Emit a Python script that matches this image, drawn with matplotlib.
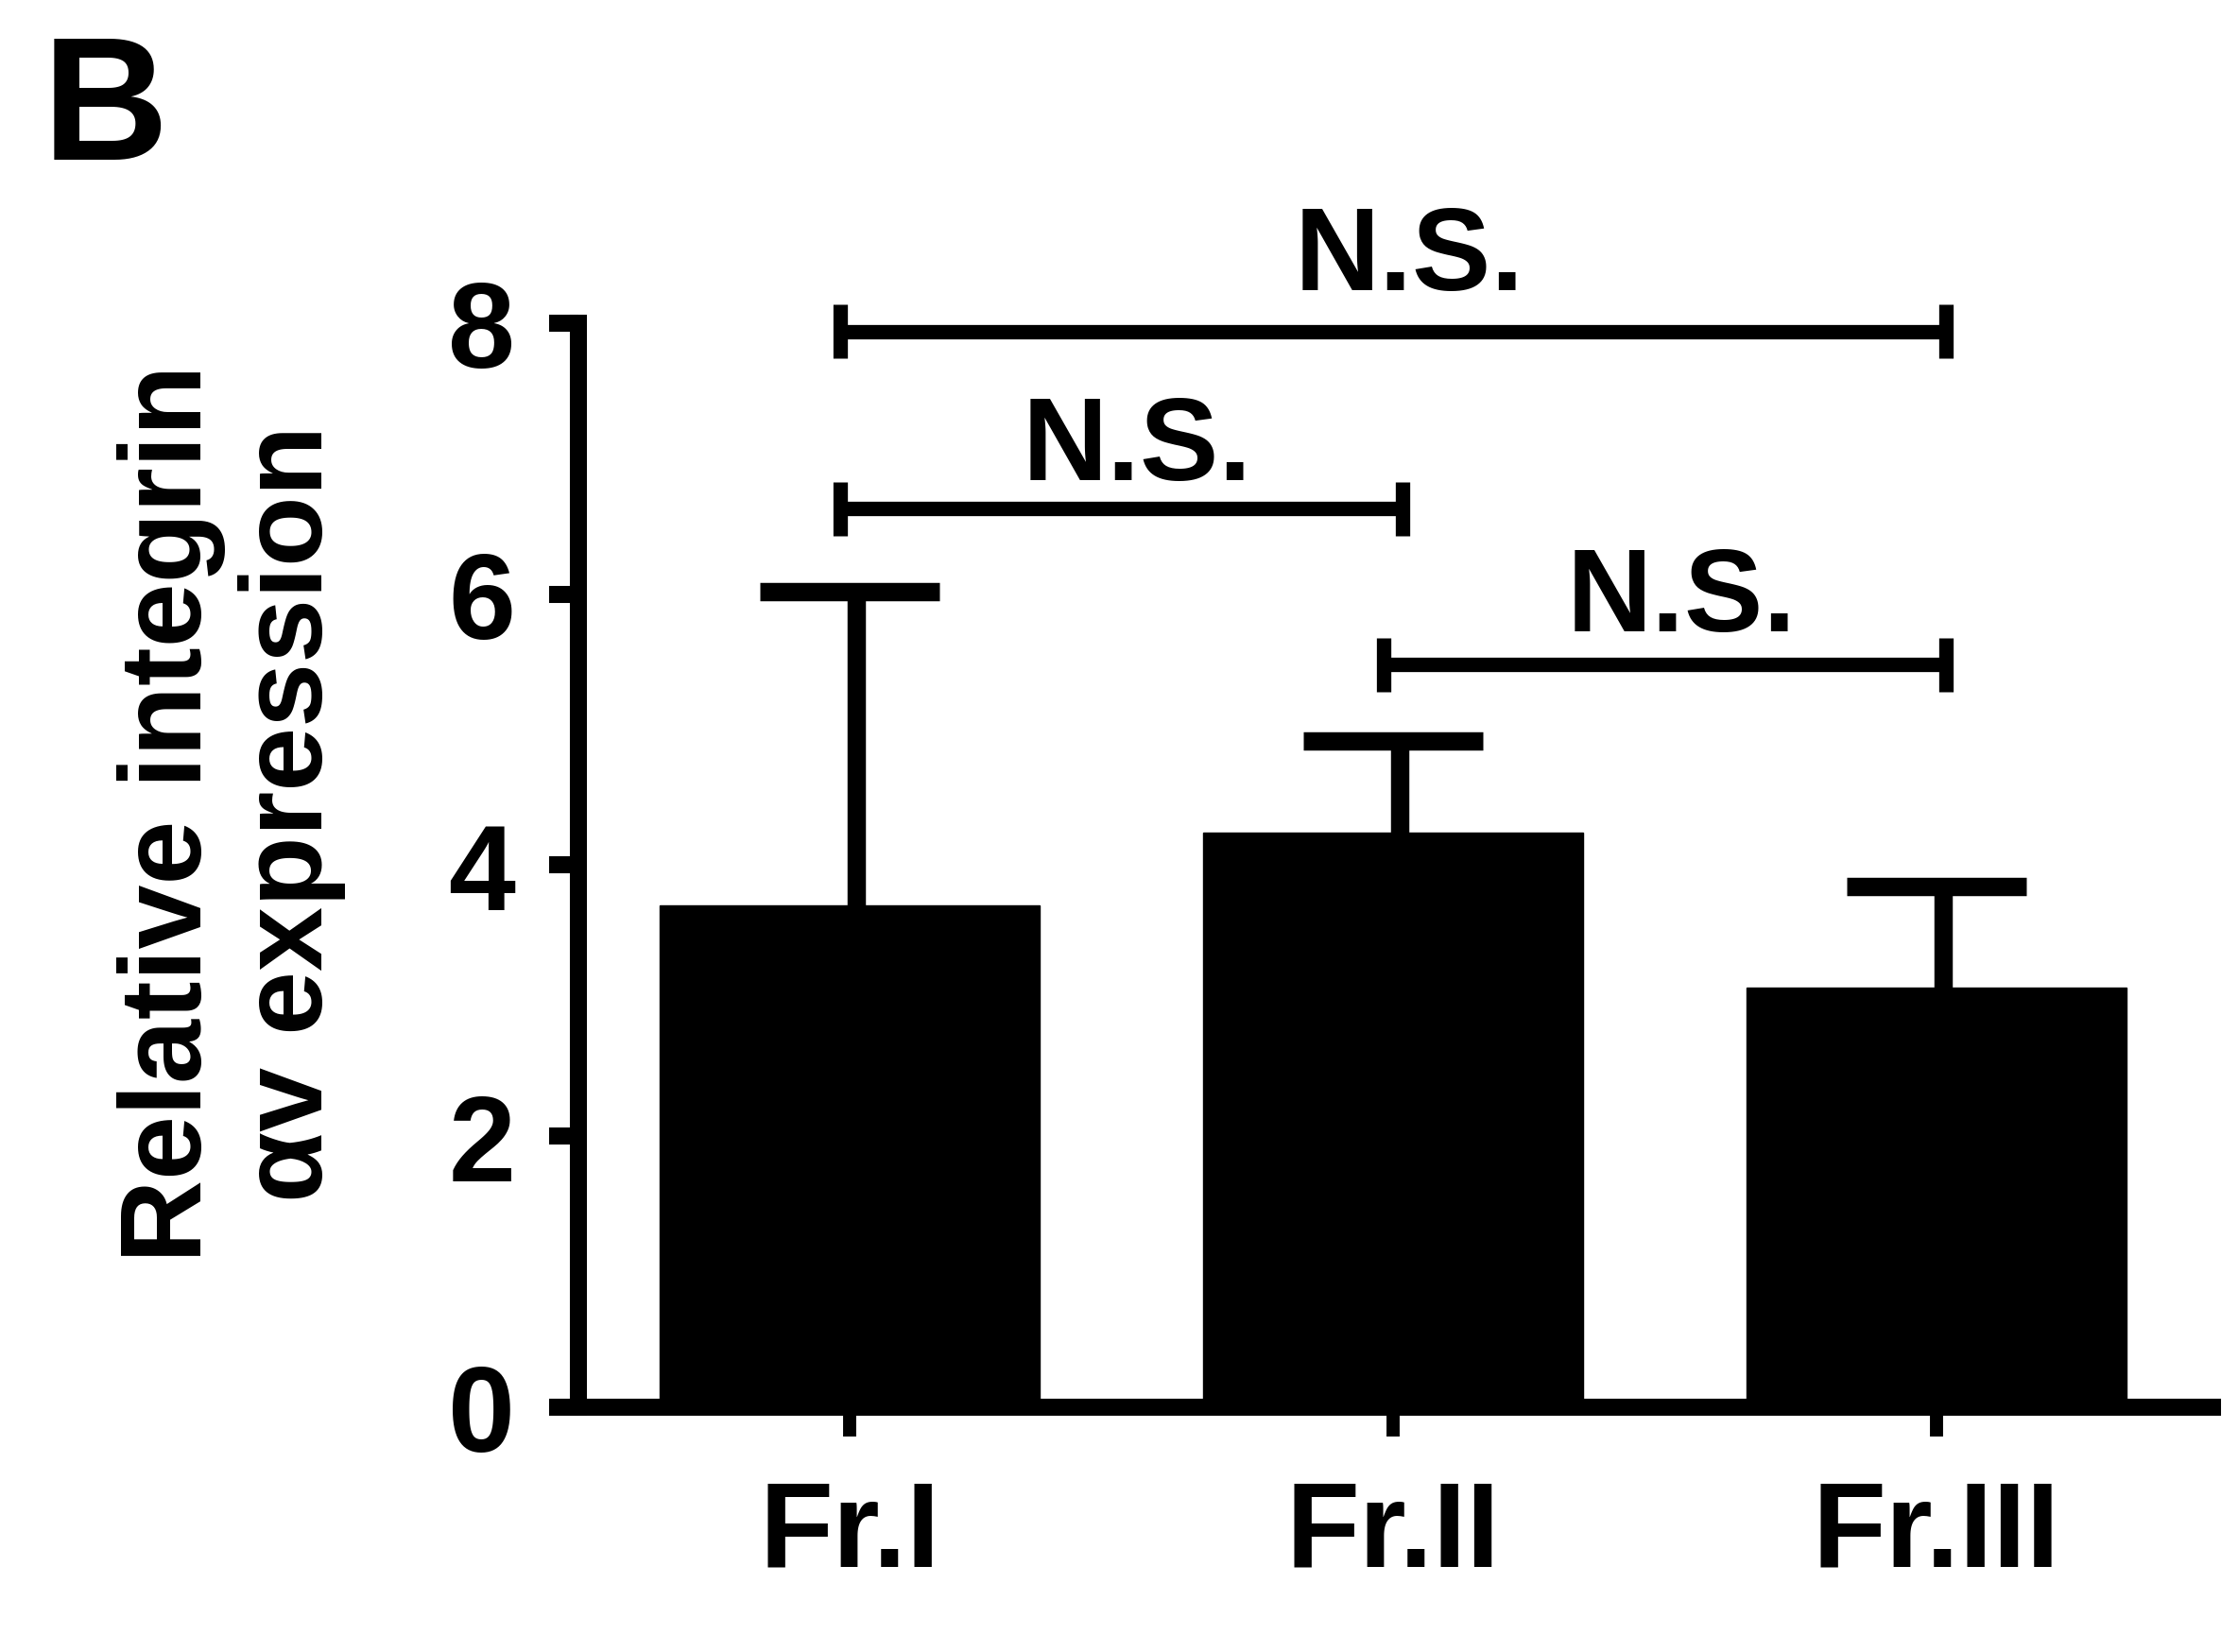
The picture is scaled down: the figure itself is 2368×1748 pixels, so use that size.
import matplotlib
matplotlib.use("Agg")
import matplotlib.pyplot as plt
from matplotlib import font_manager as fm

categories = ["Fr.I", "Fr.II", "Fr.III"]
means = [3.70, 4.24, 3.10]
sem_up = [2.32, 0.68, 0.74]
yticks = [0, 2, 4, 6, 8]
comparisons = [(0, 2), (0, 1), (1, 2)]
comp_heights = [7.94, 6.63, 5.48]
comp_labels = ["N.S.", "N.S.", "N.S."]
label_offsets = [0.31, 0.22, 0.25]

names = {f.name for f in fm.fontManager.ttflist}
narrow = "Liberation Sans Narrow" if "Liberation Sans Narrow" in names else "Liberation Sans"
main = "Liberation Sans" if "Liberation Sans" in names else "DejaVu Sans"

fig = plt.figure(figsize=(23.68, 17.49), dpi=100)
ax = fig.add_axes([0.2584, 0.1481, 0.730, 0.6558])

x = list(range(len(categories)))
ax.bar(x, means, width=0.7, color="black", edgecolor="black", zorder=2)

# error bars (upper only)
lw_err = 14
for xi, m, e in zip(x, means, sem_up):
    ax.vlines(xi + 0.013, m, m + e, color="black", lw=lw_err, zorder=3)
    ax.hlines(m + e, xi - 0.165, xi + 0.165, color="black", lw=lw_err, zorder=3)

# significance brackets
for (a, b), h, lab, off in zip(comparisons, comp_heights, comp_labels, label_offsets):
    xa, xb = a - 0.017, b + 0.017
    ax.plot([xa, xb], [h, h], color="black", lw=11, clip_on=False, solid_capstyle="butt")
    ax.plot([xa, xa], [h - 0.2, h + 0.2], color="black", lw=11, clip_on=False, solid_capstyle="butt")
    ax.plot([xb, xb], [h - 0.2, h + 0.2], color="black", lw=11, clip_on=False, solid_capstyle="butt")
    ax.text((a + b) / 2 + 0.03, h + off, lab, ha="center", va="baseline",
            fontsize=90, fontweight="bold", family=main, clip_on=False)

ax.set_xlim(-0.499, 2.507)
ax.set_ylim(0, 8)
ax.set_yticks(yticks)
ax.set_yticklabels([str(t) for t in yticks], fontsize=92, fontweight="bold", family=narrow)
ax.set_xticks(x)
ax.set_xticklabels(categories, fontsize=92, fontweight="bold", family=narrow)

for s in ["top", "right"]:
    ax.spines[s].set_visible(False)
for s in ["left", "bottom"]:
    ax.spines[s].set_linewidth(13)
    ax.spines[s].set_zorder(4)
ax.tick_params(axis="y", direction="out", length=22, width=13, pad=26)
ax.tick_params(axis="x", direction="out", length=22, width=10, pad=32)

fig.text(0.1034, 0.5077, "Relative integrin\n\u03b1v expression", rotation=90,
         ha="center", va="center", fontsize=88, fontweight="bold", family=[main, "DejaVu Sans"],
         linespacing=1.15, multialignment="center")

fig.text(0.019, 0.9034, "B", ha="left", va="baseline", fontsize=133,
         fontweight="bold", family=narrow)

fig.savefig("out.png", dpi=100)
